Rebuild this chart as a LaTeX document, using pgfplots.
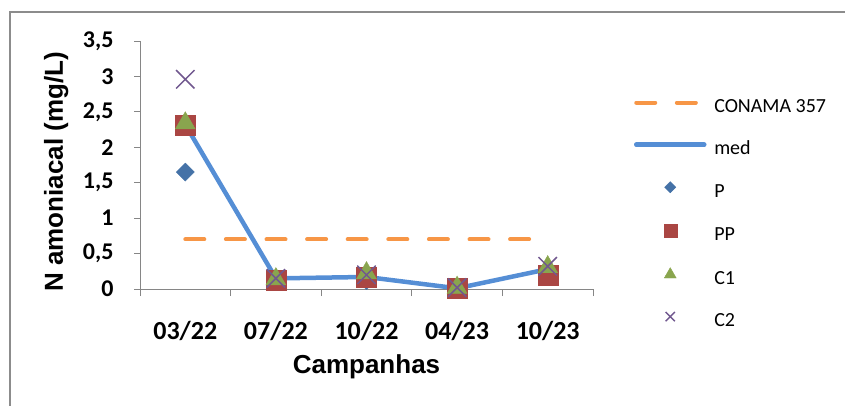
\documentclass[border=0pt]{standalone}
\usepackage{fontspec}
\setmainfont{Liberation Sans}
\newfontfamily\carlito{Carlito}
\usepackage{pgfplots}
\pgfplotsset{compat=1.18}
\definecolor{orng}{HTML}{F79646}
\definecolor{medb}{HTML}{558ED5}
\definecolor{pblue}{HTML}{4572A7}
\definecolor{ppred}{HTML}{AA4643}
\definecolor{cgreen}{HTML}{89A54E}
\definecolor{cpurp}{HTML}{71588F}
\definecolor{axgray}{HTML}{868686}
\definecolor{framegray}{HTML}{8C8C8C}
\pgfplotsset{
  lineimg/.style={legend image code/.code={\draw[##1] (2pt,0.5em) -- (#1,0.5em);}},
  markimg/.style={legend image code/.code={\draw[##1, /tikz/every mark/.append style={scale=#1}] plot coordinates {(36pt,0.5em)};}},
}
\begin{document}
\begin{tikzpicture}[x=1pt,y=1pt]
\useasboundingbox (0,0) rectangle (845,405);
\draw[framegray, line width=1.3pt] (10,-2) -- (10,393) -- (847,393);
\begin{axis}[
  at={(140pt,116pt)}, anchor=south west,
  scale only axis, width=453pt, height=248pt,
  xmin=-0.5, xmax=4.5, ymin=0, ymax=3.5,
  axis x line*=bottom, axis y line*=left,
  axis line style={draw=axgray, line width=1pt},
  xtick={0,1,2,3,4},
  xticklabels={03/22,07/22,10/22,04/23,10/23},
  major x tick style={draw=none},
  minor xtick={-0.5,0.5,1.5,2.5,3.5,4.5},
  minor tick length=7pt,
  major tick length=6pt,
  tick align=outside,
  tick style={axgray, line width=1pt},
  ytick={0,0.5,1,1.5,2,2.5,3,3.5},
  yticklabels={0,{0,5},1,{1,5},2,{2,5},3,{3,5}},
  xticklabel style={font=\carlito\bfseries\fontsize{26}{30}\selectfont, anchor=base, yshift=-44pt},
  yticklabel style={font=\carlito\bfseries\fontsize{24}{28}\selectfont, anchor=east, xshift=-17pt},
  xlabel={Campanhas},
  ylabel={N amoniacal (mg/L)},
  label style={font=\bfseries\fontsize{26}{30}\selectfont},
  xlabel style={at={(axis description cs:0.5,0)}, anchor=base, yshift=-84pt},
  ylabel style={at={(axis description cs:-0.170,0.472)}, anchor=base},
  clip=false,
  legend style={at={(axis description cs:1.0905,0.772)}, anchor=north west,
    draw=none, fill=none, inner sep=0pt, outer sep=0pt,
    font=\carlito\fontsize{20}{24}\selectfont,
    row sep=22pt, column sep=6pt,
    nodes={inner sep=0pt, text height=15pt, text depth=5pt}},
  legend cell align=left,
]
\addplot[orng, line width=4pt, line cap=round, dash pattern=on 19pt off 21.6pt, lineimg=72pt]
  coordinates {(0,0.7) (1,0.7) (2,0.7) (3,0.7) (4,0.7)};
\addlegendentry{CONAMA 357}
\addplot[medb, line width=4.5pt, line cap=round, line join=round, lineimg=70pt]
  coordinates {(0,2.32) (1,0.15) (2,0.17) (3,0.01) (4,0.28)};
\addlegendentry{med}
\addplot[only marks, mark=square*, mark size=6.4pt, mark options={rotate=45, fill=pblue, draw=pblue}, markimg=0.62]
  coordinates {(0,1.65) (1,0.13) (2,0.12) (3,0.01) (4,0.28)};
\addlegendentry{P}
\addplot[only marks, mark=square*, mark size=10pt, mark options={fill=ppred, draw=ppred}, markimg=0.65]
  coordinates {(0,2.31) (1,0.13) (2,0.16) (3,0.01) (4,0.20)};
\addlegendentry{PP}
\addplot[only marks, mark=triangle*, mark size=11.5pt, mark options={fill=cgreen, draw=cgreen}, markimg=0.6]
  coordinates {(0,2.34) (1,0.14) (2,0.225) (3,0.02) (4,0.31)};
\addlegendentry{C1}
\addplot[only marks, mark=x, mark size=13pt, mark options={draw=cpurp, line width=1.5pt}, markimg=0.5]
  coordinates {(0,2.96) (1,0.15) (2,0.20) (3,0.02) (4,0.32)};
\addlegendentry{C2}
\end{axis}
\end{tikzpicture}
\end{document}
